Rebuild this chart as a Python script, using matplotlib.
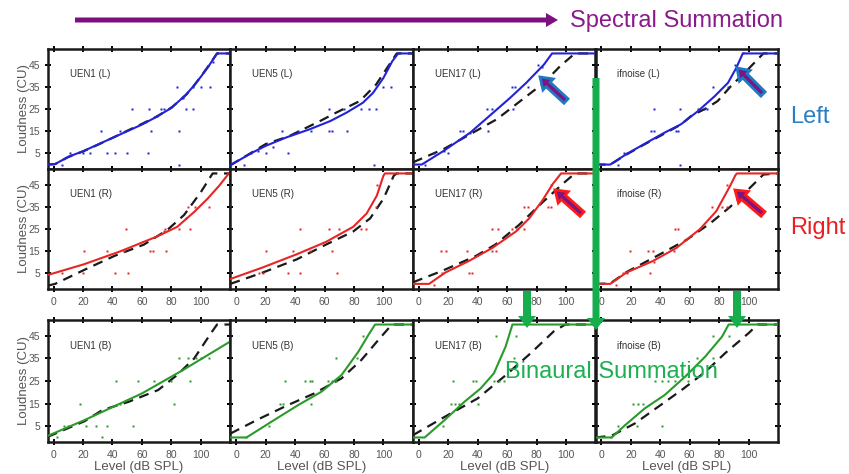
import matplotlib
matplotlib.use("Agg")
import matplotlib.pyplot as plt
from matplotlib.patches import FancyArrow

plt.rcParams['font.family'] = ['Liberation Sans', 'DejaVu Sans']

# ---------------- data ----------------
titles = ["UEN1", "UEN5", "UEN17", "ifnoise"]
rows = ["L", "R", "B"]
x_ticks = [0, 20, 40, 60, 80, 100]
y_ticks = [5, 15, 25, 35, 45]

# Row L
uen1_L_fit_x = [-4, 1, 10, 20, 30, 40, 50, 60, 70, 80, 90, 95, 100, 105, 111, 120]
uen1_L_fit_y = [0, 0.2, 3.5, 6, 9, 12, 15, 18, 21.5, 25.5, 31.5, 35.3, 39.5, 44, 50, 50]
uen1_L_dash_x = [-4, 1, 10, 20, 30, 40, 50, 60, 70, 80, 90, 95, 100, 105, 111, 120]
uen1_L_dash_y = [0, 0.2, 3.4, 5.9, 8.9, 12, 15.2, 18.3, 21.6, 25.6, 31.4, 35.2, 39.6, 44.2, 50, 50]
uen1_L_pts_x = [6, 11, 20, 25, 32, 36, 42, 45, 50, 53, 64, 65, 66, 73, 75, 84, 85, 85, 90, 95, 95, 100, 106, 62, 70, 80, 88, 108]
uen1_L_pts_y = [0, 5, 5, 5, 15, 5, 5, 15, 5, 25, 5, 25, 15, 25, 25, 35, 15, 0, 25, 25, 35, 35, 35, 19, 22, 26, 30, 46]

uen5_L_fit_x = [-4, 11, 20, 34, 50, 64, 75, 86, 93, 100, 106, 110, 120]
uen5_L_fit_y = [-0.3, 5.4, 8.4, 12.2, 15.9, 19.6, 23.4, 27.8, 32.3, 39, 46.5, 50, 50]
uen5_L_dash_x = [-4, 10, 20, 36, 57, 68, 84, 95, 103, 109, 120]
uen5_L_dash_y = [-0.3, 5.2, 9.2, 12.8, 19.6, 23.4, 28.6, 36, 44, 50, 50]
uen5_L_pts_x = [5, 10, 20.5, 35, 31, 42, 51, 63, 65, 75, 63, 73, 85, 90, 95, 99.5, 105, 93.6, 25, 15, 104]
uen5_L_pts_y = [0, 5, 5, 5, 15, 15, 15, 15, 15, 15, 25, 25, 25, 25, 25, 35, 35, 0, 8, 6, 45]

uen17_L_fit_x = [-4, 2, 17, 35, 48, 62, 73, 85, 90.5, 120]
uen17_L_fit_y = [0, 0, 6.2, 14.4, 21.9, 30, 36.8, 45, 50, 50]
uen17_L_dash_x = [-4, 17, 35, 53, 69, 85, 96, 106, 120]
uen17_L_dash_y = [1, 7, 13.7, 20.4, 28.6, 36.8, 44.3, 50, 50]
uen17_L_pts_x = [4, 10, 20, 17, 28, 30, 47, 46.6, 49.5, 64, 63, 65.5, 74.5, 81, 35, 84]
uen17_L_pts_y = [0, 5, 5, 6, 15, 15, 15, 25, 25, 25, 35, 35, 35, 45, 14, 44]

ifn_L_fit_x = [-4, 6, 17, 29, 43, 54, 65.5, 77, 86, 91.6, 96, 120]
ifn_L_fit_y = [0, 0, 4.7, 9.2, 14.4, 18.1, 24, 30.8, 36.8, 43.5, 50, 50]
ifn_L_dash_x = [-4, 6, 17, 29, 43, 54, 61, 72, 79, 88, 99.5, 110, 120]
ifn_L_dash_y = [0, 0, 4.5, 9, 14, 18, 21.9, 25.6, 28.6, 35.3, 42.8, 50, 50]
ifn_L_pts_x = [11, 15.5, 17.7, 33.6, 36, 50.7, 52, 35.5, 53.6, 65.5, 70, 72, 75.7, 86, 90.5, 96, 53.6]
ifn_L_pts_y = [0, 5, 5, 15, 15, 15, 15, 25, 25, 25, 25, 25, 35, 35, 45, 50, 0]

# Row R
uen1_R_fit_x = [-4, 20.5, 45.5, 70.5, 84, 95.5, 104.5, 112.5, 119, 120]
uen1_R_fit_y = [4.3, 9.1, 15, 21.7, 26, 32.7, 38.6, 44.5, 50, 50]
uen1_R_dash_x = [-4, 1, 20.5, 41, 61.4, 77.3, 88.6, 100, 108, 120]
uen1_R_dash_y = [-0.5, 0.3, 6.5, 12.8, 18, 24.6, 31.3, 41.6, 50, 50]
uen1_R_pts_x = [5.7, 20.5, 20, 36, 42, 49, 48, 50.5, 65.5, 67.3, 76.6, 75.7, 85, 92.7, 91, 96, 105.7, 75, 90]
uen1_R_pts_y = [5, 15, 5, 15, 5, 25, 15, 5, 15, 15, 15, 25, 25, 25, 35, 35, 35, 24, 30]

uen5_R_fit_x = [-4, 18, 41, 61, 79.5, 88.6, 95.5, 100, 101, 120]
uen5_R_fit_y = [2.5, 7.7, 13.6, 19.2, 26, 32, 40, 49, 50, 50]
uen5_R_dash_x = [-4, 18, 41, 61, 79.5, 91, 100, 107, 109, 120]
uen5_R_dash_y = [0.3, 5.4, 11.3, 18, 23.9, 29.8, 38.6, 49, 50, 50]
uen5_R_pts_x = [15.5, 18, 20.5, 35, 43, 38.6, 43.6, 50, 63, 70, 65, 68.6, 85, 88, 95, 95.5]
uen5_R_pts_y = [5, 5, 15, 5, 5, 15, 25, 15, 25, 25, 15, 5, 25, 25, 35, 45]

uen17_R_fit_x = [-4, 7, 18, 34, 50, 66, 75, 84, 91, 96.6, 120]
uen17_R_fit_y = [0.3, 0.3, 5.4, 10.6, 16.5, 23.9, 29.8, 37.9, 45.3, 50, 50]
uen17_R_dash_x = [-4, 16, 38.6, 52, 68, 84, 97.7, 106, 120]
uen17_R_dash_y = [1, 6.2, 12.8, 18, 26.8, 37, 45.3, 50, 50]
uen17_R_pts_x = [10, 16, 14.8, 18.6, 33, 34, 36, 49.5, 52.7, 50, 54, 63.6, 67, 71.6, 71.6, 74, 87.5, 89.8, 90]
uen17_R_pts_y = [0, 5, 15, 15, 15, 5, 5, 15, 15, 25, 25, 25, 25, 25, 35, 35, 35, 35, 45]

ifn_R_fit_x = [-4, 6, 17, 35, 51, 67, 78, 87.5, 91, 92, 120]
ifn_R_fit_y = [0.3, 0.3, 5.4, 10.6, 16.5, 25, 33, 44.5, 49.2, 50, 50]
ifn_R_dash_x = [-4, 6, 17, 37.5, 58, 74, 87.5, 99, 110, 120]
ifn_R_dash_y = [0.3, 0.5, 5.6, 12.8, 20.2, 27.6, 35, 42.3, 49.5, 50]
ifn_R_pts_x = [10, 15, 17.5, 19.3, 31.8, 35.2, 33, 36, 49, 50, 52, 67, 75, 82, 85, 85]
ifn_R_pts_y = [0, 5, 5, 15, 15, 15, 5, 10, 15, 25, 25, 25, 35, 35, 35, 45]

# Row B
uen1_B_fit_x = [-4, 21, 60, 88, 120]
uen1_B_fit_y = [0.7, 7.7, 19.5, 29.9, 42.5]
uen1_B_dash_x = [-4, 21, 33, 51, 71, 84, 95.5, 106.7, 111, 120]
uen1_B_dash_y = [0.3, 7.2, 12.1, 15.8, 21, 27.7, 35, 46, 50, 50]
uen1_B_pts_x = [2, 7.4, 9.7, 18, 22, 29, 33, 36.6, 42.7, 54, 45, 57, 68.5, 79.8, 81.6, 85.4, 91, 96.6, 100, 105.6, 92.8]
uen1_B_pts_y = [0, 5, 5, 15, 5, 5, 0, 5, 25, 5, 15, 25, 25, 25, 15, 35, 35, 35, 35, 35, 25]

uen5_B_fit_x = [-4, 7, 24, 42, 58, 71.6, 83, 89.8, 94.3, 120]
uen5_B_fit_y = [0, 0, 7, 14.3, 20.3, 27.7, 38, 45.4, 50, 50]
uen5_B_dash_x = [-4, 14.8, 35, 53, 71.6, 85, 96.6, 104.5, 106, 120]
uen5_B_dash_y = [1.7, 8, 14.3, 19.5, 26.2, 34.3, 43.2, 49.1, 50, 50]
uen5_B_pts_x = [7, 22, 29.5, 32, 33, 46.6, 50, 51.6, 51, 62.5, 65, 68, 68, 82, 86]
uen5_B_pts_y = [0, 5, 15, 15, 25, 25, 25, 25, 15, 25, 25, 25, 35, 35, 45]

uen17_B_fit_x = [-4, 4, 17.5, 31, 42, 51, 59, 63.6, 120]
uen17_B_fit_y = [0, 0, 7.7, 15.8, 21.7, 28.4, 40.3, 50, 50]
uen17_B_dash_x = [-4, 17.5, 40, 58, 76, 91.7, 99.5, 120]
uen17_B_dash_y = [1, 9.1, 17.3, 27, 37.3, 47, 50, 50]
uen17_B_pts_x = [16.4, 22, 24.3, 27.6, 23, 36.6, 39, 40, 51, 54.6, 58, 52.4, 65.8, 64.7]
uen17_B_pts_y = [5, 15, 15, 15, 25, 25, 25, 15, 25, 25, 25, 45, 45, 35]

ifn_B_fit_x = [-4, 7, 16, 29.5, 43, 57, 70.5, 82, 86.4, 120]
ifn_B_fit_y = [0, 0, 5.4, 12.9, 18.8, 27, 35.8, 44.7, 50, 50]
ifn_B_dash_x = [-4, 7, 22.7, 38.6, 54.5, 70.5, 84, 100, 104.5, 106, 120]
ifn_B_dash_y = [0, 0.8, 6.2, 13.6, 21, 29, 37.3, 46.2, 49, 50, 50]
ifn_B_pts_x = [11.4, 24, 21.6, 25, 28.4, 41, 36.4, 41, 45.5, 50, 59, 64.8, 76, 76, 86.4, 6.8]
ifn_B_pts_y = [5, 5, 15, 15, 15, 5, 25, 25, 25, 25, 25, 35, 35, 45, 45, 0]

panels = [
    [(uen1_L_fit_x, uen1_L_fit_y, uen1_L_dash_x, uen1_L_dash_y, uen1_L_pts_x, uen1_L_pts_y),
     (uen5_L_fit_x, uen5_L_fit_y, uen5_L_dash_x, uen5_L_dash_y, uen5_L_pts_x, uen5_L_pts_y),
     (uen17_L_fit_x, uen17_L_fit_y, uen17_L_dash_x, uen17_L_dash_y, uen17_L_pts_x, uen17_L_pts_y),
     (ifn_L_fit_x, ifn_L_fit_y, ifn_L_dash_x, ifn_L_dash_y, ifn_L_pts_x, ifn_L_pts_y)],
    [(uen1_R_fit_x, uen1_R_fit_y, uen1_R_dash_x, uen1_R_dash_y, uen1_R_pts_x, uen1_R_pts_y),
     (uen5_R_fit_x, uen5_R_fit_y, uen5_R_dash_x, uen5_R_dash_y, uen5_R_pts_x, uen5_R_pts_y),
     (uen17_R_fit_x, uen17_R_fit_y, uen17_R_dash_x, uen17_R_dash_y, uen17_R_pts_x, uen17_R_pts_y),
     (ifn_R_fit_x, ifn_R_fit_y, ifn_R_dash_x, ifn_R_dash_y, ifn_R_pts_x, ifn_R_pts_y)],
    [(uen1_B_fit_x, uen1_B_fit_y, uen1_B_dash_x, uen1_B_dash_y, uen1_B_pts_x, uen1_B_pts_y),
     (uen5_B_fit_x, uen5_B_fit_y, uen5_B_dash_x, uen5_B_dash_y, uen5_B_pts_x, uen5_B_pts_y),
     (uen17_B_fit_x, uen17_B_fit_y, uen17_B_dash_x, uen17_B_dash_y, uen17_B_pts_x, uen17_B_pts_y),
     (ifn_B_fit_x, ifn_B_fit_y, ifn_B_dash_x, ifn_B_dash_y, ifn_B_pts_x, ifn_B_pts_y)],
]

row_colors = ['#2222d8', '#e82525', '#2a9a2a']

# ---------------- layout ----------------
W, H = 849, 474
fig = plt.figure(figsize=(W / 100, H / 100), dpi=100)
fig.patch.set_facecolor('white')

col_left = [47.7, 230.3, 412.9, 595.5]
col_w = 182.6
row_top = [49, 169, 320]
row_h = [120, 120, 122]

tick_gray = '#555555'
for r in range(3):
    for c in range(4):
        fx, fy, dx, dy, px, py = panels[r][c]
        ax = fig.add_axes([col_left[c] / W, 1 - (row_top[r] + row_h[r]) / H,
                           col_w / W, row_h[r] / H])
        color = row_colors[r]
        ax.plot(dx, dy, color='#1a1a1a', lw=1.6, ls=(0, (4.5, 3)), zorder=2)
        ax.plot(fx, fy, color=color, lw=1.5, zorder=3)
        ax.plot(px, py, ls='none', marker='s', ms=1.9, mec='none', mfc=color, zorder=4)
        ax.set_xlim(-4, 120)
        ax.set_ylim(-2, 52)
        ax.set_xticks(x_ticks)
        ax.set_yticks(y_ticks)
        ax.tick_params(direction='inout', length=5, width=1.4, colors='black',
                       labelcolor=tick_gray, labelsize=7.5, top=True, right=True, pad=3)
        if c != 0:
            ax.set_yticklabels([])
        if r == 0:
            ax.set_xticklabels([])
        for sp in ax.spines.values():
            sp.set_linewidth(1.8)
            sp.set_color('#1a1a1a')
        ax.text(0.12, 0.79, f"{titles[c]} ({rows[r]})", transform=ax.transAxes,
                fontsize=7, color='#333333', va='center', ha='left')
        if c == 0:
            ax.set_ylabel("Loudness (CU)", fontsize=9.5, color=tick_gray, labelpad=-1)
        if r == 2:
            ax.set_xlabel("Level (dB SPL)", fontsize=9.5, color=tick_gray, labelpad=1)

# ---------------- annotation overlay (pixel coordinates) ----------------
ov = fig.add_axes([0, 0, 1, 1], zorder=10)
ov.set_xlim(0, W)
ov.set_ylim(H, 0)
ov.axis('off')
ov.patch.set_alpha(0)

purple = '#7e0f80'
ov.add_patch(FancyArrow(75, 20, 483, 0, width=5, head_width=14, head_length=12,
                        length_includes_head=True, color=purple, lw=0))
ov.text(570, 21, "Spectral Summation", fontsize=17, color='#8a1a8c', va='center', ha='left')
ov.text(790, 117, "Left", fontsize=17, color='#2a7fc4', va='center', ha='left')
ov.text(790, 228, "Right", fontsize=17, color='#e82020', va='center', ha='left')

green = '#16ad4c'
ov.add_patch(FancyArrow(596, 78, 0, 252, width=7, head_width=18, head_length=12,
                        length_includes_head=True, color=green, lw=0))
ov.add_patch(FancyArrow(527, 291, 0, 37, width=8, head_width=18, head_length=12,
                        length_includes_head=True, color=green, lw=0))
ov.add_patch(FancyArrow(737, 291, 0, 37, width=8, head_width=18, head_length=12,
                        length_includes_head=True, color=green, lw=0))
ov.text(505, 372, "Binaural Summation", fontsize=17, color='#1db050', va='center', ha='left')

for (tx, ty, hx, hy, ec) in [(566, 101, 540, 77, '#1f78c4'),
                             (763, 94, 737, 68, '#1f78c4'),
                             (582, 214, 555, 190, '#ff1a1a'),
                             (763, 214, 735, 190, '#ff1a1a')]:
    ov.add_patch(FancyArrow(tx, ty, hx - tx, hy - ty, width=6, head_width=15, head_length=11,
                            length_includes_head=True, facecolor='#7a1582', edgecolor=ec, lw=2.0))

fig.savefig("out.png", dpi=100, facecolor='white')
